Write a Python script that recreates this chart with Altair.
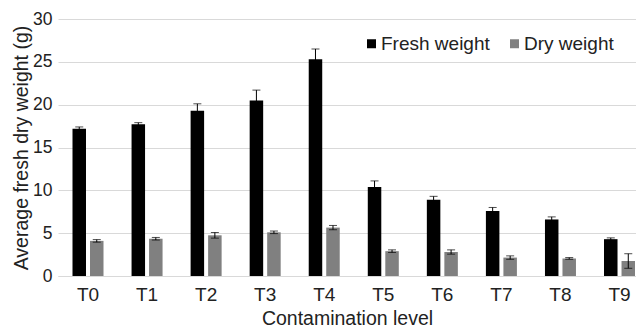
import altair as alt
import pandas as pd

categories = ["T0", "T1", "T2", "T3", "T4", "T5", "T6", "T7", "T8", "T9"]
fresh_mean = [17.2, 17.7, 19.3, 20.5, 25.3, 10.4, 8.9, 7.6, 6.6, 4.3]
fresh_err = [0.2, 0.2, 0.8, 1.2, 1.2, 0.7, 0.4, 0.4, 0.3, 0.15]
dry_mean = [4.1, 4.35, 4.75, 5.1, 5.65, 2.9, 2.8, 2.15, 2.05, 1.75]
dry_err = [0.15, 0.15, 0.33, 0.15, 0.25, 0.15, 0.25, 0.2, 0.1, 0.85]
series = ["Fresh weight", "Dry weight"]
colors = ["#000000", "#808080"]

rows = []
for i, c in enumerate(categories):
    rows.append({"cat": c, "series": series[0], "value": fresh_mean[i],
                 "lo": fresh_mean[i] - fresh_err[i], "hi": fresh_mean[i] + fresh_err[i]})
    rows.append({"cat": c, "series": series[1], "value": dry_mean[i],
                 "lo": dry_mean[i] - dry_err[i], "hi": dry_mean[i] + dry_err[i]})
df = pd.DataFrame(rows)

FONT = "Liberation Sans"
TXT = "#222222"

x_enc = alt.X("cat:N", sort=categories, title="Contamination level",
              scale=alt.Scale(paddingInner=0.475, paddingOuter=0.131, align=0.937),
              axis=alt.Axis(labelAngle=0, ticks=False, domain=True, domainColor="#d9d9d9",
                            labelFontSize=19, labelColor=TXT, labelPadding=9,
                            titleFontSize=19.5, titleFontWeight="normal", titleColor=TXT,
                            titlePadding=5, labelFont=FONT, titleFont=FONT))
xoff = alt.XOffset("series:N", sort=series, scale=alt.Scale(paddingInner=0.229, paddingOuter=0))

base = alt.Chart(df)

bars = base.mark_bar().encode(
    x=x_enc,
    xOffset=xoff,
    y=alt.Y("value:Q", title="Average fresh dry weight (g)",
            scale=alt.Scale(domain=[0, 30], nice=False),
            axis=alt.Axis(values=[0, 5, 10, 15, 20, 25, 30], ticks=False, domain=False,
                          gridColor="#d9d9d9", labelFontSize=17.5, labelColor=TXT,
                          labelPadding=6, titleFontSize=19.5, titleFontWeight="normal",
                          titleColor=TXT, titlePadding=1, labelFont=FONT, titleFont=FONT)),
    color=alt.Color("series:N", sort=series,
                    scale=alt.Scale(domain=series, range=colors),
                    legend=alt.Legend(title=None, orient="none", legendX=304, legendY=15,
                                      direction="horizontal", symbolType="square",
                                      symbolSize=81, symbolStrokeWidth=0,
                                      labelFontSize=19, labelFont=FONT, labelColor=TXT,
                                      labelOffset=0, columnPadding=15)),
)

rules = base.mark_rule(color="#000000", strokeWidth=1).encode(
    x=alt.X("cat:N", sort=categories),
    xOffset=xoff,
    y="lo:Q",
    y2="hi:Q",
)

caps_hi = base.mark_tick(color="#000000", thickness=1, size=8).encode(
    x=alt.X("cat:N", sort=categories),
    xOffset=xoff,
    y="hi:Q",
)
caps_lo = base.mark_tick(color="#000000", thickness=1, size=8).encode(
    x=alt.X("cat:N", sort=categories),
    xOffset=xoff,
    y="lo:Q",
)

chart = alt.layer(bars, rules, caps_hi, caps_lo).properties(
    width=578, height=257,
    autosize=alt.AutoSizeParams(type="none"),
    padding={"left": 50, "top": 11, "right": 0, "bottom": 52},
).configure_view(stroke=None).configure_axis(grid=True).configure_axisX(grid=False)

chart.save("out.html", embed_options={"renderer": "svg", "actions": False})
